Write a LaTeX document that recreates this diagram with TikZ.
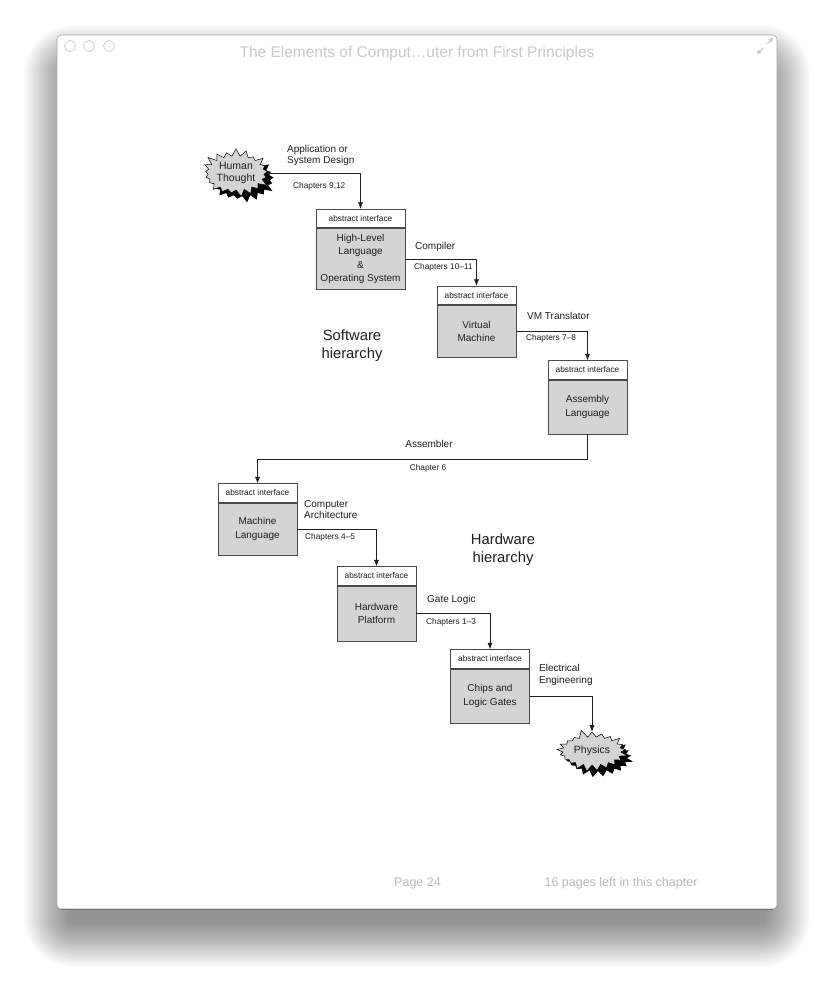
\documentclass[tikz,border=0pt]{standalone}
\usepackage{fontspec}
\setmainfont{Liberation Sans}
\usetikzlibrary{positioning,shapes.symbols,shadows,arrows.meta}
\definecolor{layergray}{HTML}{D4D4D4}
\definecolor{boxline}{HTML}{4A4A4A}
\definecolor{ink}{HTML}{1E1E1E}
\definecolor{chrome}{HTML}{C9C9C9}

\begin{document}
\begin{tikzpicture}[x=1pt,y=-1pt,
	iface/.style={draw=boxline, line width=.8pt, fill=white, text=ink, font=\fontsize{8.3}{10}\selectfont, minimum width=79pt, minimum height=18.5pt, inner sep=0pt},
	layer/.style={draw=boxline, line width=.8pt, fill=layergray, text=ink, font=\fontsize{10}{13.5}\selectfont, align=center, minimum width=79pt, minimum height=54pt, inner sep=0pt},
	burst/.style={starburst, starburst points=21, starburst point height=8pt, random starburst=#1, draw=black, line width=.5pt, fill=layergray, text=ink, font=\fontsize{10.5}{12.5}\selectfont, align=center, inner sep=0pt, drop shadow={fill=black, opacity=1, shadow xshift=6pt, shadow yshift=-6pt}},
	lbl/.style={text=ink, font=\fontsize{10}{11.5}\selectfont, align=left, inner sep=0pt},
	chap/.style={text=ink, font=\fontsize{8.3}{10}\selectfont, inner sep=0pt},
	big/.style={text=ink, font=\fontsize{14.8}{18}\selectfont, align=center, inner sep=0pt},
	conn/.style={draw=ink, line width=.6pt, -{Latex[length=6.5pt,width=5pt]}}]
	\fill[white] (0,0) rectangle (834,988);
	\useasboundingbox (0,0) rectangle (834,988);
	
	%shadow
	\foreach \i in {1,...,30}
		\fill[black, opacity=.015, rounded corners={4pt+1.5pt*\i}] ({69-1.5*\i},{70-1.5*\i}) rectangle ({765+1.5*\i},{922+1.5*\i});
	
	%window
	\draw[draw=gray!70, line width=.6pt, fill=white, rounded corners=4pt] (57,35) rectangle (777,909);
	\draw[draw=gray!90!black, line width=.8pt] (61,909) -- (773,909);
	\foreach \x/\n in {70/a,89/b,109/c}
		\node[circle, draw=chrome, line width=.7pt, minimum size=11pt, inner sep=0pt] (btn-\n) at (\x,46) {};
	\node[text=chrome, font=\fontsize{15.5}{18}\selectfont, inner sep=0pt] (title) at (417,53) {The Elements of Comput…uter from First Principles};
	\draw[chrome, line width=1.2pt, -{Triangle[length=4pt,width=4.5pt]}] (767,44)--(773,38);
	\draw[chrome, line width=1.2pt, -{Triangle[length=4pt,width=4.5pt]}] (763,48)--(757,54);
	\node[text=gray!55, font=\fontsize{12.5}{15}\selectfont, inner sep=0pt] (page) at (417.5,883) {Page 24};
	\node[text=gray!55, font=\fontsize{12.5}{15}\selectfont, inner sep=0pt] (remain) at (621,883) {16 pages left in this chapter};
	
	%layers
	\node[iface, minimum width=89pt] (hll-h) at (360.5,218.5) {abstract interface};
	\node[layer, minimum width=89pt, minimum height=61pt, below=0pt of hll-h] (hll) {High-Level\\Language\\\&\\Operating System};
	\node[iface] (vm-h) at (476.5,295.5) {abstract interface};
	\node[layer, minimum height=52pt, below=0pt of vm-h] (vm) {Virtual\\Machine};
	\node[iface] (asm-h) at (587.5,370) {abstract interface};
	\node[layer, below=0pt of asm-h] (asm) {Assembly\\Language};
	\node[iface] (ml-h) at (257.5,493) {abstract interface};
	\node[layer, minimum height=52pt, below=0pt of ml-h] (ml) {Machine\\Language};
	\node[iface] (hw-h) at (376.5,576) {abstract interface};
	\node[layer, minimum height=55pt, below=0pt of hw-h] (hw) {Hardware\\Platform};
	\node[iface] (chip-h) at (490,659) {abstract interface};
	\node[layer, below=0pt of chip-h] (chip) {Chips and\\Logic Gates};
	
	%ends
	\node[burst=17, minimum width=72pt, minimum height=50pt] (human) at (236,173) {Human\\Thought};
	\node[burst=5, minimum width=74pt, minimum height=44pt] (physics) at (592,751) {Physics};
	
	%translations
	\draw[conn] (human.east) -| (hll-h.north);
	\node[lbl, anchor=west] (design) at (287,155.5) {Application or\\System Design};
	\node[chap, anchor=west] (ch-design) at (293,186) {Chapters 9,12};
	
	\draw[conn] (hll.east) -| (vm-h.north);
	\node[lbl, anchor=west] (compiler) at (415,247) {Compiler};
	\node[chap, anchor=west] (ch-compiler) at (414,267) {Chapters 10–11};
	
	\draw[conn] (vm.east) -| (asm-h.north);
	\node[lbl, anchor=west] (vmt) at (527,316) {VM Translator};
	\node[chap, anchor=west] (ch-vmt) at (526,338) {Chapters 7–8};
	
	\draw[conn] (asm.south) -- ++(0,25) -| (ml-h.north);
	\node[lbl] (assembler) at (429,444) {Assembler};
	\node[chap] (ch-assembler) at (428,468) {Chapter 6};
	
	\draw[conn] (ml.east) -| (hw-h.north);
	\node[lbl, anchor=west] (arch) at (304,509.5) {Computer\\Architecture};
	\node[chap, anchor=west] (ch-arch) at (305,537) {Chapters 4–5};
	
	\draw[conn] (hw.east) -| (chip-h.north);
	\node[lbl, anchor=west] (gates) at (427,600) {Gate Logic};
	\node[chap, anchor=west] (ch-gates) at (426,622) {Chapters 1–3};
	
	\draw[conn] (chip.east) -| (physics.north);
	\node[lbl, anchor=west] (ee) at (539,675) {Electrical\\Engineering};
	
	%hierarchies
	\node[big] (sw) at (352,346) {Software\\hierarchy};
	\node[big] (hwh) at (503,550) {Hardware\\hierarchy};
\end{tikzpicture}
\end{document}
